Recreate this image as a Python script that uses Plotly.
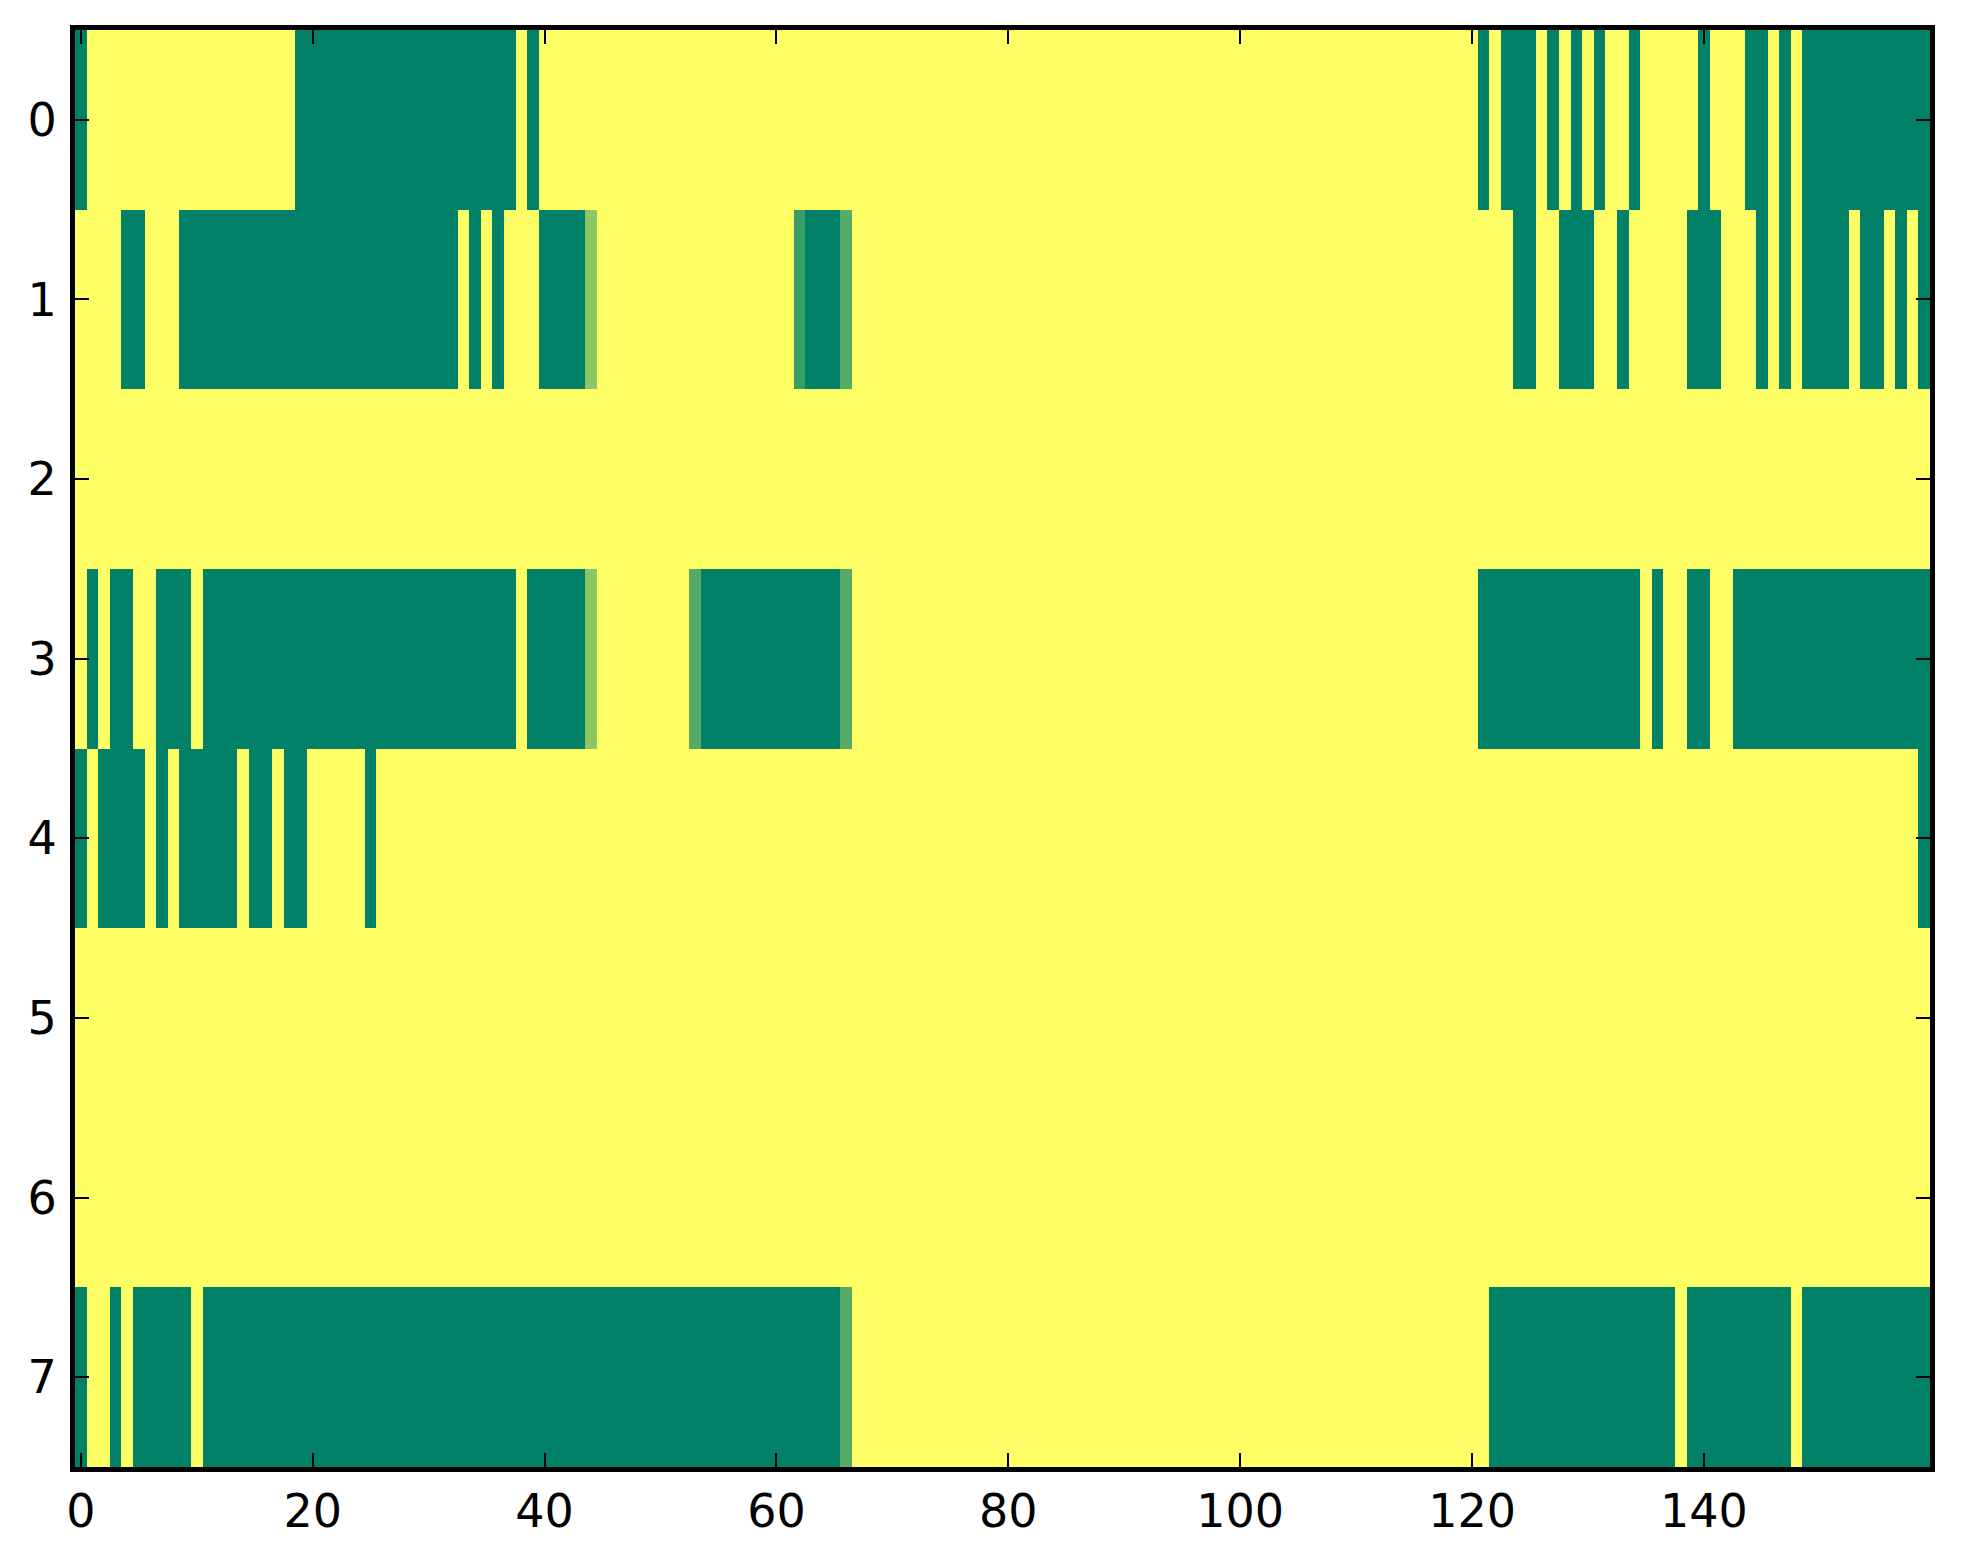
import plotly.graph_objects as go

n_rows = 8
n_cols = 160

# runs of low (green) cells per row, inclusive column ranges
row0_low = [(0, 0), (19, 37), (39, 39), (121, 121), (123, 125), (127, 127), (129, 129),
            (131, 131), (134, 134), (140, 140), (144, 145), (147, 147), (149, 159)]
row1_low = [(4, 5), (9, 32), (34, 34), (36, 36), (40, 43), (63, 65), (124, 125), (128, 130),
            (133, 133), (139, 141), (145, 145), (147, 147), (149, 152), (154, 155),
            (157, 157), (159, 159)]
row2_low = []
row3_low = [(1, 1), (3, 4), (7, 9), (11, 37), (39, 43), (54, 65), (121, 134), (136, 136),
            (139, 140), (143, 159)]
row4_low = [(0, 0), (2, 5), (7, 7), (9, 13), (15, 16), (18, 19), (25, 25), (159, 159)]
row5_low = []
row6_low = []
row7_low = [(0, 0), (3, 3), (5, 9), (11, 65), (122, 137), (139, 147), (149, 159)]

# cells with in-between values: (row, col) -> value
partial_cells = {(1, 44): 0.55, (1, 62): 0.23, (1, 66): 0.34,
                 (3, 44): 0.55, (3, 53): 0.34, (3, 66): 0.34,
                 (7, 66): 0.34}

x_ticks = [0, 20, 40, 60, 80, 100, 120, 140]
y_ticks = [0, 1, 2, 3, 4, 5, 6, 7]

rows_low = [row0_low, row1_low, row2_low, row3_low, row4_low, row5_low, row6_low, row7_low]
z = []
for r, runs in enumerate(rows_low):
    row = [1.0] * n_cols
    for a, b in runs:
        for c in range(a, b + 1):
            row[c] = 0.0
    for (pr, pc), v in partial_cells.items():
        if pr == r:
            row[pc] = v
    z.append(row)

summer = [[0, "rgb(0,128,102)"], [1, "rgb(255,255,102)"]]

fig = go.Figure(go.Heatmap(z=z, x=list(range(n_cols)), y=list(range(n_rows)),
                           colorscale=summer, zmin=0, zmax=1, showscale=False))

axis_style = dict(showline=True, linewidth=5, linecolor="black", mirror="ticks",
                  ticks="inside", ticklen=14, tickwidth=2, tickcolor="black",
                  showgrid=False, zeroline=False,
                  tickfont=dict(family="DejaVu Sans", size=46, color="black"))

fig.update_xaxes(range=[-0.5, 159.5], tickvals=x_ticks, **axis_style)
fig.update_yaxes(range=[7.5, -0.5], tickvals=y_ticks, ticklabelstandoff=4, **axis_style)

fig.update_layout(width=1963, height=1564, paper_bgcolor="white", plot_bgcolor="white",
                  margin=dict(l=67, r=41, t=22, b=105))

fig.write_html("out.html")
